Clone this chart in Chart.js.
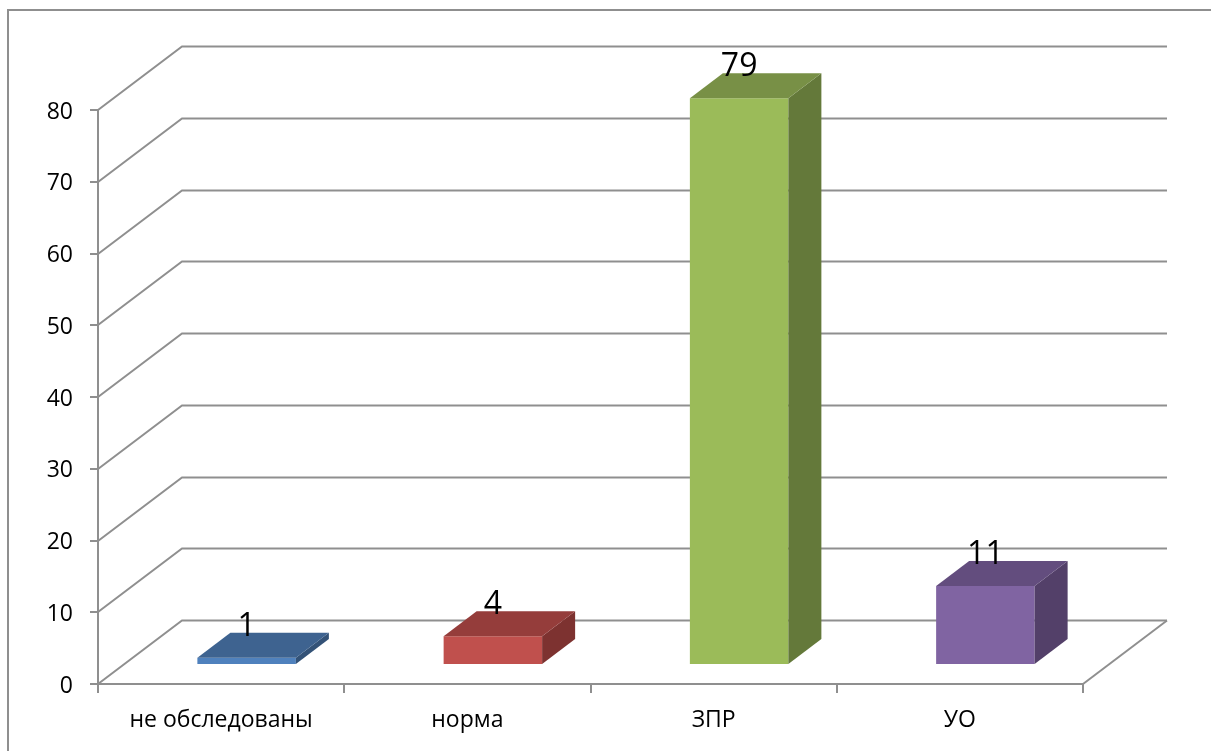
<!DOCTYPE html>
<html><head><meta charset="utf-8">
<style>html,body{margin:0;padding:0;background:#fff;overflow:hidden}#w{width:1211px;height:751px}</style>
<script src="https://cdn.jsdelivr.net/npm/chart.js@4"></script>
</head><body><div id="w"><canvas id="c"></canvas></div>
<script>
const categories = ['не обследованы','норма','ЗПР','УО'];
const values = [1,4,79,11];
const yTicks = [0,10,20,30,40,50,60,70,80];
const frontColors = ['#4f81bd','#c0504d','#9bbb59','#8064a2'];
const topColors = ['#3e6390','#953d3b','#789046','#634d7e'];
const sideColors = ['#335277','#7d3230','#64793a','#534069'];

const FONT = '"Open Sans", sans-serif';
const GRID = '#8f8f8f';
const WALL = {dx:84, dy:-63.5};
const BAR_SHIFT = {dx:25.5, dy:-19};
const BAR_DEPTH = {dx:33, dy:-25};

const plugin3d = {
  id:'plugin3d',
  beforeDatasetsDraw(chart){
    const {ctx,scales:{x,y}} = chart;
    const a = chart.chartArea;
    ctx.save();
    ctx.strokeStyle = GRID; ctx.lineWidth = 2;
    // chart frame
    ctx.beginPath(); ctx.moveTo(8,751); ctx.lineTo(8,10); ctx.lineTo(1211,10); ctx.stroke();
    // side wall and back wall lines
    yTicks.forEach(v=>{
      const py = Math.round(y.getPixelForValue(v));
      ctx.beginPath();
      ctx.moveTo(a.left,py);
      ctx.lineTo(a.left+WALL.dx,py+WALL.dy);
      ctx.lineTo(a.right+WALL.dx,py+WALL.dy);
      ctx.stroke();
    });
    // floor right edge
    ctx.beginPath();
    ctx.moveTo(a.right,a.bottom);
    ctx.lineTo(a.right+WALL.dx,a.bottom+WALL.dy);
    ctx.stroke();
    ctx.restore();
  },
  beforeDatasetDraw(chart){
    chart.ctx.save();
    chart.ctx.translate(BAR_SHIFT.dx,BAR_SHIFT.dy);
  },
  afterDatasetDraw(chart,args){
    const ctx = chart.ctx;
    args.meta.data.forEach((el,i)=>{
      const l = el.x-el.width/2, r = el.x+el.width/2, t = el.y, b = el.base;
      const d = BAR_DEPTH;
      ctx.fillStyle = sideColors[i];
      ctx.beginPath();
      ctx.moveTo(r,t);ctx.lineTo(r+d.dx,t+d.dy);ctx.lineTo(r+d.dx,b+d.dy);ctx.lineTo(r,b);ctx.closePath();ctx.fill();
      ctx.fillStyle = topColors[i];
      ctx.beginPath();
      ctx.moveTo(l,t);ctx.lineTo(l+d.dx,t+d.dy);ctx.lineTo(r+d.dx,t+d.dy);ctx.lineTo(r,t);ctx.closePath();ctx.fill();
    });
    ctx.fillStyle = '#000';
    ctx.font = '32px '+FONT;
    ctx.textAlign = 'center';
    ctx.textBaseline = 'alphabetic';
    args.meta.data.forEach((el,i)=>{
      ctx.fillText(String(values[i]), el.x, el.y+BAR_DEPTH.dy+3);
    });
    ctx.restore();
  }
};

new Chart(document.getElementById('c'),{
  type:'bar',
  data:{labels:categories,datasets:[{
    data:values,
    backgroundColor:frontColors,
    barPercentage:0.4,
    categoryPercentage:1,
    clip:false
  }]},
  options:{
    responsive:true,maintainAspectRatio:false,animation:false,
    layout:{padding:{top:110,right:128,left:0,bottom:0}},
    plugins:{legend:{display:false},tooltip:{enabled:false},title:{display:false}},
    scales:{
      x:{
        offset:true,
        grid:{display:true,offset:true,drawOnChartArea:false,drawTicks:true,tickLength:9,color:GRID,lineWidth:2},
        border:{display:true,color:GRID,width:2},
        ticks:{color:'#000',font:{family:FONT,size:23},padding:14,maxRotation:0,autoSkip:false},
        afterFit(s){s.height=67;}
      },
      y:{
        min:0,max:80,
        afterBuildTicks(s){s.ticks=yTicks.map(v=>({value:v}));},
        grid:{display:true,drawOnChartArea:false,drawTicks:true,tickLength:8,color:GRID,lineWidth:2},
        border:{display:true,color:GRID,width:2},
        ticks:{color:'#000',font:{family:FONT,size:23},padding:17,labelOffset:2},
        afterFit(s){s.width=98;}
      }
    }
  },
  plugins:[plugin3d]
});
</script></body></html>
